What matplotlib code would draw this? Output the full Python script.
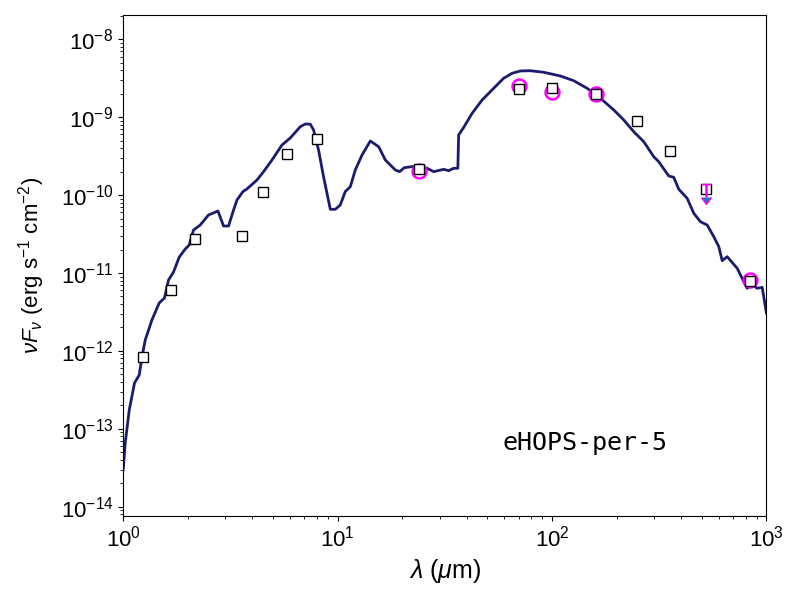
import matplotlib
matplotlib.use("Agg")
import matplotlib.pyplot as plt

plt.rcParams['font.family'] = ['Liberation Sans', 'DejaVu Sans']
plt.rcParams['mathtext.fontset'] = 'custom'
plt.rcParams['mathtext.rm'] = 'Liberation Sans'
plt.rcParams['mathtext.it'] = 'Liberation Sans:italic'
plt.rcParams['mathtext.bf'] = 'Liberation Sans:bold'

# Model SED
model_wave = [1.00, 1.022, 1.067, 1.129, 1.188, 1.223, 1.267, 1.361, 1.472, 1.558,
              1.627, 1.717, 1.825, 1.947, 2.032, 2.128, 2.287, 2.50, 2.766, 2.938,
              3.10, 3.272, 3.393, 3.619, 3.778, 4.207, 4.516, 4.942, 5.503, 6.016,
              6.698, 7.07, 7.458, 7.727, 8.151, 8.60, 9.247, 9.757, 10.29, 10.86,
              11.46, 12.09, 13.0, 14.21, 15.54, 16.70, 18.59, 19.47, 20.48, 22.24,
              24.32, 26.14, 28.05, 31.24, 32.96, 34.77, 36.38, 36.69, 38.72, 42.39,
              47.19, 53.45, 59.5, 65.14, 71.2, 79.3, 91.5, 109.4, 126.3, 145.8,
              168.2, 194.1, 216.1, 240.5, 267.9, 298.3, 314.8, 350.4, 369.8, 390.1,
              427.0, 458.4, 492.5, 529.4, 568.4, 599.7, 622.0, 656.2, 730.6, 784.3,
              813.6, 858.5, 905.8, 955.9, 1000.0]
model_flux = [2.96e-14, 6.57e-14, 1.74e-13, 3.87e-13, 4.91e-13, 8.35e-13, 1.38e-12, 2.49e-12, 4.12e-12, 4.78e-12,
              8.13e-12, 1.03e-11, 1.60e-11, 2.03e-11, 2.29e-11, 3.56e-11, 4.13e-11, 5.56e-11, 6.25e-11, 4.01e-11,
              4.01e-11, 6.44e-11, 8.65e-11, 1.11e-10, 1.20e-10, 1.56e-10, 2.00e-10, 2.82e-10, 4.40e-10, 5.41e-10,
              7.55e-10, 8.18e-10, 8.13e-10, 6.85e-10, 3.79e-10, 1.72e-10, 6.57e-11, 6.57e-11, 7.46e-11, 1.11e-10,
              1.28e-10, 2.10e-10, 3.27e-10, 4.95e-10, 4.18e-10, 2.82e-10, 2.10e-10, 2.00e-10, 2.25e-10, 2.32e-10,
              2.32e-10, 2.21e-10, 2.00e-10, 2.14e-10, 2.06e-10, 2.21e-10, 2.21e-10, 5.91e-10, 7.38e-10, 1.12e-9,
              1.66e-9, 2.35e-9, 3.16e-9, 3.66e-9, 3.92e-9, 3.95e-9, 3.77e-9, 3.38e-9, 2.94e-9, 2.35e-9,
              1.75e-9, 1.24e-9, 9.21e-10, 6.52e-10, 4.85e-10, 3.11e-10, 2.68e-10, 1.76e-10, 1.69e-10, 1.19e-10,
              9.10e-11, 5.84e-11, 4.55e-11, 4.13e-11, 2.92e-11, 2.18e-11, 1.44e-11, 1.62e-11, 1.15e-11, 7.73e-12,
              6.37e-12, 7.02e-12, 6.37e-12, 6.55e-12, 3.07e-12]

# Observed photometry (squares)
phot_wave = [1.235, 1.662, 2.159, 3.6, 4.5, 5.8, 8.0, 24.0, 70.0, 100.0, 160.0, 250.0, 357.0, 520.0, 843.0]
phot_flux = [8.4e-13, 6.05e-12, 2.73e-11, 2.99e-11, 1.10e-10, 3.37e-10, 5.25e-10, 2.14e-10,
             2.28e-9, 2.35e-9, 1.99e-9, 8.93e-10, 3.68e-10, 1.19e-10, 7.9e-12]

# Fitted points (magenta circles)
fit_wave = [24.0, 70.0, 100.0, 160.0, 843.0]
fit_flux = [2.06e-10, 2.51e-9, 2.12e-9, 1.97e-9, 8.13e-12]

# Upper limit
ul_wave = [520.0]
ul_flux = [1.39e-10]
ul_err = [4.4e-11]

fig = plt.figure(figsize=(8, 6), dpi=100)
ax = fig.add_axes([0.154, 0.14, 0.804, 0.835])

ax.plot(model_wave, model_flux, color='#1c1c6e', lw=2.0, zorder=2)
ax.plot(phot_wave, phot_flux, linestyle='none', marker='s', ms=6.5,
        mfc='white', mec='black', mew=1.0, zorder=4)
ax.plot(fit_wave, fit_flux, linestyle='none', marker='o', ms=10,
        mfc='none', mec='magenta', mew=1.8, zorder=3)
ax.errorbar(ul_wave, ul_flux, yerr=ul_err, uplims=True, fmt='none',
            ecolor='magenta', elinewidth=1.8, capsize=3.5, zorder=5)

ax.set_xscale('log')
ax.set_yscale('log')
ax.set_xlim(1, 1000)
ax.set_ylim(7.6e-15, 2.05e-8)

ax.set_xlabel(r'$\lambda$ ($\mu$m)', fontsize=18)
ax.set_ylabel(r'$\nu F_\nu$ (erg s$^{-1}$ cm$^{-2}$)', fontsize=16, labelpad=10)
ax.tick_params(axis='both', which='major', labelsize=16)

ax.text(0.59, 0.145, 'eHOPS-per-5', transform=ax.transAxes, fontsize=18,
        family='DejaVu Sans Mono', ha='left', va='center')

fig.savefig('out.png', dpi=100)
